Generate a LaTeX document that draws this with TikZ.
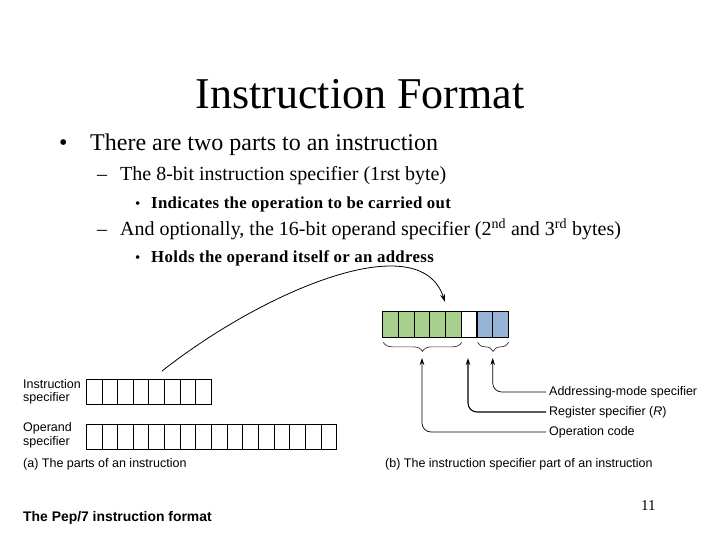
\documentclass[tikz,border=0pt]{standalone}
\usepackage{fontspec}
\setmainfont{Liberation Serif}
\newfontfamily\figfont{Liberation Sans}
\usepackage{tikz}
\usetikzlibrary{arrows.meta, decorations.pathreplacing}
\definecolor{opgreen}{RGB}{168,207,142}
\definecolor{modeblue}{RGB}{151,180,214}

\begin{document}
\begin{tikzpicture}[x=1pt, y=-1pt,
  cell/.style={rectangle, draw, line width=0.8pt, minimum width=15.65pt, minimum height=25.5pt, inner sep=0pt},
  slidetext/.style={anchor=base west, inner sep=0pt},
  subsub/.style={slidetext, font=\bfseries\fontsize{16.8}{19}\selectfont\addfontfeature{LetterSpace=2}},
  figlabel/.style={anchor=base west, inner sep=0pt, align=left, font=\figfont\fontsize{12.5}{13.5}\selectfont},
  fieldname/.style={anchor=west, inner xsep=3pt, inner ysep=0pt, font=\figfont\fontsize{12.5}{13.5}\selectfont},
  ptr/.style={-{Stealth[length=7pt, width=4.5pt]}, line width=0.7pt, rounded corners=9pt},
  curly/.style={decorate, decoration={brace, mirror, amplitude=9pt}, line width=0.7pt, black!80}
]
\useasboundingbox (0,0) rectangle (720,540);
\node[anchor=base, inner sep=0pt, font=\fontsize{44}{48}\selectfont] (title) at (360,109) {Instruction Format};
\node[slidetext, font=\fontsize{24}{28}\selectfont] (dot1) at (59,151) {•};
\node[slidetext, font=\fontsize{24}{28}\selectfont] (item1) at (90,151) {There are two parts to an instruction};
\node[slidetext, font=\fontsize{20}{24}\selectfont] (dash1) at (97,181) {–};
\node[slidetext, font=\fontsize{20}{24}\selectfont] (item2) at (120,181) {The 8-bit instruction specifier (1rst byte)};
\node[slidetext, font=\fontsize{15}{16}\selectfont] (dot2) at (135,208) {•};
\node[subsub] (item3) at (151,208) {Indicates the operation to be carried out};
\node[slidetext, font=\fontsize{20}{24}\selectfont] (dash2) at (97,236) {–};
\node[slidetext, font=\fontsize{20}{24}\selectfont] (item4) at (120,236) {And optionally, the 16-bit operand specifier (2\textsuperscript{nd} and 3\textsuperscript{rd} bytes)};
\node[slidetext, font=\fontsize{15}{16}\selectfont] (dot3) at (135,262) {•};
\node[subsub] (item5) at (151,262) {Holds the operand itself or an address};

\node[figlabel] (inslabel) at (23,401.5) {Instruction\\specifier};
\node[figlabel] (opdlabel) at (23,445) {Operand\\specifier};
\foreach \i in {0,...,7}
  \node[cell] (ins\i) at ({94.1+15.65*\i},391.7) {};
\foreach \i in {0,...,15}
  \node[cell] (opd\i) at ({94.1+15.65*\i},437) {};
\node[figlabel] (capa) at (23,467) {(a) The parts of an instruction};

\foreach \i/\c in {0/opgreen,1/opgreen,2/opgreen,3/opgreen,4/opgreen,5/white,6/modeblue,7/modeblue}
  \node[cell, fill=\c] (spec\i) at ({390.55+15.7*\i},324.2) {};
\draw[curly] (spec0.south west) ++(1,5) coordinate (gl) -- (spec4.south east |- gl);
\draw[curly] (spec6.south west) ++(1,5) coordinate (bl) -- (spec7.south east |- bl);

\coordinate (optip) at (422,358);
\coordinate (regtip) at (468,358);
\coordinate (amtip) at (492.7,358);
\node[fieldname] (amode) at (546,392) {Addressing-mode specifier};
\node[fieldname] (reg) at (546,412) {Register specifier (\textit{R})};
\node[fieldname] (opcode) at (546,432) {Operation code};
\draw[ptr] (amode.west) -| (amtip);
\draw[ptr, line width=1.1pt] (reg.west) -| (regtip);
\draw[ptr] (opcode.west) -| (optip);
\node[figlabel] (capb) at (385,467) {(b) The instruction specifier part of an instruction};

\coordinate (arcstart) at (162,371);
\coordinate (arcend) at (445,302);
\draw[-{Stealth[length=8pt, width=5pt]}, line width=0.8pt] (arcstart) .. controls (265,290) and (420,225) .. (arcend);

\node[slidetext, font=\figfont\bfseries\fontsize{13.9}{16}\selectfont] (footer) at (23,521) {The Pep/7 instruction format};
\node[slidetext, font=\fontsize{15}{17}\selectfont] (pagenum) at (641,510) {11};
\end{tikzpicture}
\end{document}
